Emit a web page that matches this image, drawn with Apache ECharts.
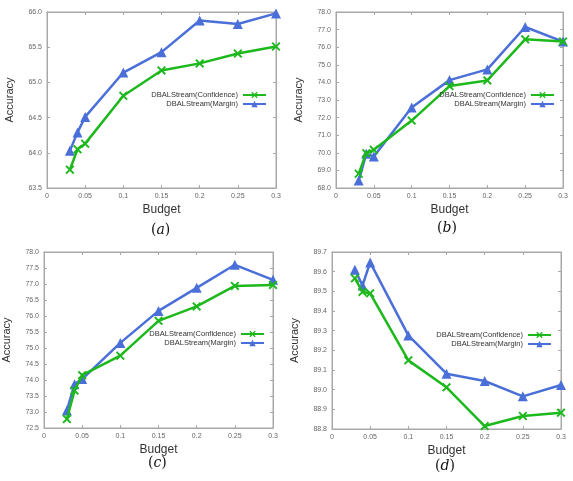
<!DOCTYPE html>
<html>
<head>
<meta charset="utf-8">
<script src="https://cdn.jsdelivr.net/npm/echarts@6/dist/echarts.min.js"></script>
<style>
  html, body { margin: 0; padding: 0; background: #fff; }
  #chart { width: 573px; height: 481px; }
</style>
</head>
<body>
<div id="chart"></div>
<script>
// budget values shared by all four panels
var budgets = [0.03, 0.04, 0.05, 0.1, 0.15, 0.2, 0.25, 0.3];
var xTicks = [0, 0.05, 0.1, 0.15, 0.2, 0.25, 0.3];

// panel (a)
var aConfidence = [63.76, 64.05, 64.13, 64.81, 65.17, 65.27, 65.41, 65.51];
var aMargin = [64.03, 64.29, 64.51, 65.14, 65.43, 65.88, 65.83, 65.98];
var aRange = [63.5, 66.0, 0.5];

// panel (b)
var bConfidence = [68.81, 69.98, 70.17, 71.83, 73.79, 74.11, 76.45, 76.32];
var bMargin = [68.42, 69.94, 69.79, 72.58, 74.13, 74.74, 77.15, 76.32];
var bRange = [68.0, 78.0, 1.0];

// panel (c)
var cConfidence = [72.78, 73.67, 74.15, 74.76, 75.85, 76.30, 76.94, 76.97];
var cMargin = [73.05, 73.87, 74.03, 75.16, 76.16, 76.88, 77.60, 77.13];
var cRange = [72.5, 78.0, 0.5];

// panel (d)
var dConfidence = [89.566, 89.497, 89.490, 89.149, 89.012, 88.815, 88.866, 88.883];
var dMargin = [89.610, 89.530, 89.647, 89.276, 89.081, 89.044, 88.966, 89.024];
var dRange = [88.8, 89.7, 0.1];

var seriesNames = ['DBALStream(Confidence)', 'DBALStream(Margin)'];
var captions = ['a', 'b', 'c', 'd'];

var panels = [
    { conf: aConfidence, marg: aMargin, range: aRange },
    { conf: bConfidence, marg: bMargin, range: bRange },
    { conf: cConfidence, marg: cMargin, range: cRange },
    { conf: dConfidence, marg: dMargin, range: dRange }
];

// layout of each panel (plot box, legend, caption)
var grids = [
    { left: 47, top: 12, width: 229, height: 176 },
    { left: 336, top: 12, width: 227, height: 176 },
    { left: 44, top: 252, width: 229, height: 176 },
    { left: 332, top: 252, width: 229, height: 177 }
];
var legendPos = [
    { right: 306, top: 91 },
    { right: 18, top: 91 },
    { right: 308, top: 330 },
    { right: 21, top: 331 }
];
var captionPos = [
    { x: 161, y: 231 },
    { x: 447, y: 229 },
    { x: 158, y: 464 },
    { x: 445, y: 467 }
];

var green = '#1cb81c';
var blue = '#4a6fd8';
var frame = '#a8a8a8';
var font = '"Liberation Sans", Arial, sans-serif';
var crossPath = 'path://M0,1.5L1.5,0L5,3.5L8.5,0L10,1.5L6.5,5L10,8.5L8.5,10L5,6.5L1.5,10L0,8.5L3.5,5Z';

function pairs(values) {
    return budgets.map(function (b, i) { return [b, values[i]]; });
}

var option = {
    backgroundColor: '#fff',
    animation: false,
    grid: [],
    xAxis: [],
    yAxis: [],
    legend: [],
    series: [],
    graphic: []
};

panels.forEach(function (p, i) {
    var g = grids[i];
    option.grid.push({
        left: g.left, top: g.top, width: g.width, height: g.height,
        show: true, borderColor: frame, borderWidth: 1,
        containLabel: false, outerBoundsMode: 'none'
    });

    option.xAxis.push({
        type: 'value', gridIndex: i,
        min: xTicks[0], max: xTicks[xTicks.length - 1], interval: 0.05,
        name: 'Budget', nameLocation: 'middle', nameGap: 16,
        nameTextStyle: { fontFamily: font, fontSize: 12, color: '#333' },
        axisLine: { onZero: false, lineStyle: { color: frame, width: 1 } },
        axisTick: { show: true, inside: true, length: 3, lineStyle: { color: frame } },
        axisLabel: { fontFamily: font, fontSize: 7, color: '#666', margin: 5 },
        splitLine: { show: false }
    });
    option.xAxis.push({
        type: 'value', gridIndex: i, position: 'top',
        min: xTicks[0], max: xTicks[xTicks.length - 1], interval: 0.05,
        axisLine: { onZero: false, lineStyle: { color: frame, width: 1 } },
        axisTick: { show: true, inside: true, length: 3, lineStyle: { color: frame } },
        axisLabel: { show: false },
        splitLine: { show: false }
    });

    option.yAxis.push({
        type: 'value', gridIndex: i,
        min: p.range[0], max: p.range[1], interval: p.range[2],
        name: 'Accuracy', nameLocation: 'middle', nameGap: 32,
        nameTextStyle: { fontFamily: font, fontSize: 11, color: '#333' },
        axisLine: { show: true, onZero: false, lineStyle: { color: frame, width: 1 } },
        axisTick: { show: true, inside: true, length: 3, lineStyle: { color: frame } },
        axisLabel: {
            fontFamily: font, fontSize: 7, color: '#666', margin: 5,
            formatter: function (v) { return v.toFixed(1); }
        },
        splitLine: { show: false }
    });
    option.yAxis.push({
        type: 'value', gridIndex: i, position: 'right',
        min: p.range[0], max: p.range[1], interval: p.range[2],
        axisLine: { show: true, onZero: false, lineStyle: { color: frame, width: 1 } },
        axisTick: { show: true, inside: true, length: 3, lineStyle: { color: frame } },
        axisLabel: { show: false },
        splitLine: { show: false }
    });

    option.series.push({
        name: seriesNames[0], type: 'line',
        xAxisIndex: i * 2, yAxisIndex: i * 2,
        data: pairs(p.conf),
        symbol: crossPath, symbolSize: 9,
        lineStyle: { color: green, width: 2.5 },
        itemStyle: { color: green },
        z: 3
    });
    option.series.push({
        name: seriesNames[1], type: 'line',
        xAxisIndex: i * 2, yAxisIndex: i * 2,
        data: pairs(p.marg),
        symbol: 'triangle', symbolSize: 10,
        lineStyle: { color: blue, width: 2.5 },
        itemStyle: { color: blue },
        z: 2
    });

    option.legend.push({
        data: seriesNames,
        orient: 'vertical', align: 'right',
        right: legendPos[i].right, top: legendPos[i].top,
        itemWidth: 23, itemHeight: 8, itemGap: 1, padding: 0,
        textStyle: { fontFamily: font, fontSize: 7.5, color: '#333', padding: [0, 0, 0, 0] },
        selectedMode: false
    });

    option.graphic.push({
        type: 'text', left: captionPos[i].x - 10, top: captionPos[i].y - 8,
        style: {
            text: '{p|(}{i|' + captions[i] + '}{p|)}',
            rich: {
                p: { fontFamily: '"DejaVu Serif", serif', fontSize: 14, fill: '#111' },
                i: { fontFamily: '"DejaVu Serif", serif', fontStyle: 'italic', fontSize: 14, fill: '#111' }
            }
        }
    });
});

var myChart = echarts.init(document.getElementById('chart'));
myChart.setOption(option);
</script>
</body>
</html>
